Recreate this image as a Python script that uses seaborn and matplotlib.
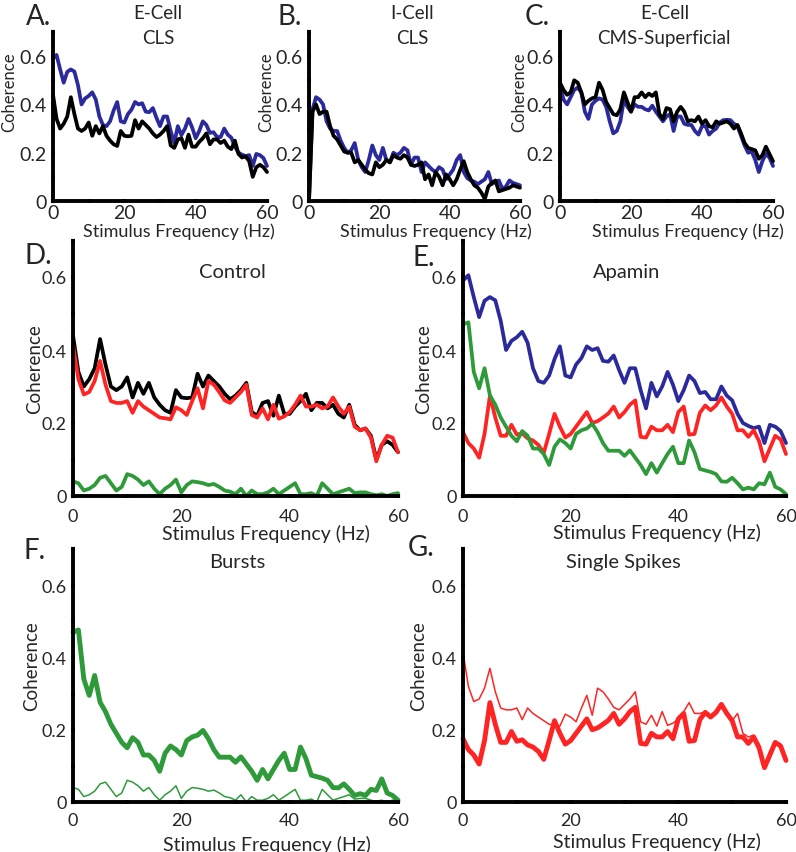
import numpy as np
import matplotlib
matplotlib.use("Agg")
import matplotlib.pyplot as plt
import seaborn as sns
from matplotlib.ticker import MultipleLocator, FixedLocator, FixedFormatter

sns.set_style("white")
plt.rcParams["font.family"] = ["Lato", "DejaVu Sans"]

freq = list(range(0, 61))

# E-cell CLS, all spikes (blue in A and E)
ecell_all = [0.59, 0.605, 0.545, 0.49, 0.535, 0.545, 0.536, 0.48, 0.40, 0.425,
             0.435, 0.45, 0.42, 0.35, 0.315, 0.31, 0.33, 0.375, 0.41, 0.33,
             0.325, 0.36, 0.378, 0.41, 0.40, 0.405, 0.37, 0.368, 0.385, 0.345,
             0.31, 0.35, 0.35, 0.29, 0.24, 0.31, 0.273, 0.30, 0.34, 0.305,
             0.26, 0.29, 0.33, 0.315, 0.282, 0.285, 0.265, 0.265, 0.30, 0.275,
             0.262, 0.225, 0.20, 0.192, 0.186, 0.19, 0.145, 0.195, 0.19, 0.178,
             0.145]
# E-cell CLS control (black in A and D)
ecell_ctrl = [0.44, 0.34, 0.30, 0.32, 0.35, 0.43, 0.36, 0.30, 0.29, 0.30,
              0.325, 0.27, 0.31, 0.28, 0.31, 0.27, 0.25, 0.235, 0.228, 0.29,
              0.27, 0.268, 0.27, 0.335, 0.30, 0.33, 0.315, 0.30, 0.28, 0.265,
              0.275, 0.29, 0.31, 0.23, 0.22, 0.255, 0.26, 0.22, 0.275, 0.225,
              0.225, 0.245, 0.26, 0.28, 0.235, 0.255, 0.255, 0.24, 0.25, 0.225,
              0.215, 0.25, 0.195, 0.18, 0.185, 0.165, 0.10, 0.14, 0.15, 0.14,
              0.12]
# I-cell CLS
icell_blue = [0.0, 0.38, 0.43, 0.42, 0.40, 0.33, 0.30, 0.29, 0.29, 0.25,
              0.22, 0.20, 0.21, 0.24, 0.17, 0.14, 0.12, 0.17, 0.23, 0.19,
              0.17, 0.22, 0.17, 0.16, 0.20, 0.19, 0.20, 0.22, 0.21, 0.15,
              0.18, 0.18, 0.12, 0.16, 0.145, 0.13, 0.12, 0.14, 0.13, 0.09,
              0.11, 0.13, 0.17, 0.19, 0.12, 0.095, 0.085, 0.08, 0.07, 0.08,
              0.09, 0.12, 0.07, 0.08, 0.085, 0.05, 0.06, 0.085, 0.075, 0.07,
              0.065]
icell_black = [0.0, 0.37, 0.40, 0.36, 0.37, 0.37, 0.31, 0.27, 0.255, 0.23,
               0.205, 0.20, 0.20, 0.16, 0.17, 0.15, 0.13, 0.115, 0.11, 0.16,
               0.14, 0.15, 0.17, 0.16, 0.19, 0.18, 0.175, 0.19, 0.18, 0.15,
               0.145, 0.15, 0.16, 0.09, 0.11, 0.065, 0.12, 0.10, 0.065, 0.11,
               0.09, 0.065, 0.09, 0.13, 0.165, 0.12, 0.09, 0.065, 0.055, 0.035,
               0.008, 0.06, 0.075, 0.085, 0.04, 0.045, 0.05, 0.055, 0.065, 0.06,
               0.055]
# E-cell CMS-superficial
cms_blue = [0.48, 0.42, 0.40, 0.43, 0.46, 0.47, 0.45, 0.37, 0.34, 0.40,
            0.415, 0.425, 0.42, 0.39, 0.33, 0.28, 0.29, 0.33, 0.42, 0.39,
            0.37, 0.40, 0.39, 0.39, 0.38, 0.375, 0.395, 0.37, 0.35, 0.33,
            0.35, 0.36, 0.29, 0.35, 0.35, 0.32, 0.315, 0.315, 0.29, 0.275,
            0.31, 0.31, 0.275, 0.29, 0.30, 0.325, 0.335, 0.336, 0.335, 0.32,
            0.31, 0.27, 0.23, 0.20, 0.205, 0.17, 0.12, 0.165, 0.195, 0.18,
            0.145]
cms_black = [0.49, 0.46, 0.44, 0.45, 0.50, 0.49, 0.45, 0.40, 0.415, 0.425,
             0.43, 0.49, 0.46, 0.41, 0.385, 0.36, 0.355, 0.38, 0.45, 0.41,
             0.37, 0.43, 0.43, 0.45, 0.43, 0.445, 0.435, 0.45, 0.36, 0.34,
             0.385, 0.38, 0.33, 0.37, 0.39, 0.37, 0.33, 0.335, 0.33, 0.35,
             0.32, 0.335, 0.31, 0.305, 0.33, 0.32, 0.325, 0.33, 0.32, 0.30,
             0.315, 0.28, 0.24, 0.22, 0.215, 0.21, 0.175, 0.19, 0.225, 0.195,
             0.165]
# Control: single spikes (red) and bursts (green)
ctrl_single = [0.415, 0.32, 0.278, 0.285, 0.315, 0.37, 0.305, 0.26, 0.255, 0.255,
               0.26, 0.228, 0.26, 0.245, 0.235, 0.225, 0.215, 0.213, 0.21, 0.243,
               0.235, 0.222, 0.26, 0.295, 0.24, 0.315, 0.305, 0.285, 0.262, 0.255,
               0.27, 0.285, 0.305, 0.222, 0.215, 0.24, 0.21, 0.25, 0.212, 0.218,
               0.23, 0.25, 0.275, 0.245, 0.245, 0.25, 0.24, 0.245, 0.27, 0.245,
               0.225, 0.245, 0.19, 0.18, 0.185, 0.16, 0.095, 0.14, 0.165, 0.16,
               0.12]
ctrl_burst = [0.04, 0.035, 0.015, 0.02, 0.03, 0.05, 0.055, 0.035, 0.015, 0.025,
              0.06, 0.055, 0.045, 0.03, 0.04, 0.02, 0.005, 0.02, 0.03, 0.045,
              0.01, 0.03, 0.04, 0.038, 0.035, 0.03, 0.033, 0.025, 0.015, 0.012,
              0.005, 0.02, 0.0, 0.015, 0.005, 0.005, 0.01, 0.02, 0.005, 0.015,
              0.025, 0.035, 0.005, 0.005, 0.008, 0.0, 0.035, 0.02, 0.005, 0.01,
              0.015, 0.02, 0.008, 0.01, 0.01, 0.005, 0.002, 0.005, 0.0, 0.005,
              0.008]
# Apamin: single spikes (red) and bursts (green)
apa_single = [0.175, 0.145, 0.13, 0.105, 0.17, 0.275, 0.215, 0.165, 0.165, 0.195,
              0.168, 0.172, 0.158, 0.152, 0.14, 0.118, 0.17, 0.225, 0.19, 0.16,
              0.17, 0.19, 0.21, 0.23, 0.20, 0.205, 0.215, 0.226, 0.245, 0.215,
              0.23, 0.25, 0.262, 0.162, 0.16, 0.19, 0.18, 0.18, 0.195, 0.175,
              0.23, 0.245, 0.168, 0.17, 0.228, 0.248, 0.235, 0.248, 0.27, 0.245,
              0.225, 0.18, 0.18, 0.162, 0.18, 0.15, 0.095, 0.13, 0.165, 0.155,
              0.115]
apa_burst = [0.47, 0.476, 0.34, 0.295, 0.35, 0.276, 0.25, 0.215, 0.19, 0.165,
             0.15, 0.178, 0.165, 0.13, 0.13, 0.115, 0.085, 0.135, 0.155, 0.145,
             0.13, 0.17, 0.18, 0.185, 0.198, 0.175, 0.145, 0.124, 0.124, 0.124,
             0.11, 0.125, 0.105, 0.085, 0.06, 0.09, 0.064, 0.09, 0.115, 0.135,
             0.09, 0.09, 0.152, 0.12, 0.074, 0.07, 0.066, 0.06, 0.04, 0.039,
             0.05, 0.035, 0.018, 0.023, 0.018, 0.035, 0.032, 0.064, 0.025, 0.018,
             0.005]

xticks_major = [0, 20, 40, 60]
xtick_labels = ["0", "20", "40", "60"]
yticks_major = [0, 0.2, 0.4, 0.6]
ytick_labels = ["0", "0.2", "0.4", "0.6"]

BLUE = "#2a2a9c"
BLACK = "#000000"
RED = "#ff2424"
GREEN = "#2e9a3a"

W, H = 796, 853
fig = plt.figure(figsize=(W / 100, H / 100), dpi=100)


def px_axes(x0, x1, y_top, y_bot):
    return fig.add_axes([x0 / W, 1 - y_bot / H, (x1 - x0) / W, (y_bot - y_top) / H])


def style(ax, tick_fs, xlab_fs, ylab_fs, ylab_pos, xlab_pos, xpad):
    ax.set_xlim(0, 60)
    ax.set_ylim(0, 0.7)
    for s in ["top", "right"]:
        ax.spines[s].set_visible(False)
    for s in ["left", "bottom"]:
        ax.spines[s].set_linewidth(2.8)
        ax.spines[s].set_color("black")
    ax.xaxis.set_major_locator(FixedLocator(xticks_major))
    ax.xaxis.set_major_formatter(FixedFormatter(xtick_labels))
    ax.yaxis.set_major_locator(FixedLocator(yticks_major))
    ax.yaxis.set_major_formatter(FixedFormatter(ytick_labels))
    ax.xaxis.set_minor_locator(MultipleLocator(10))
    ax.yaxis.set_minor_locator(MultipleLocator(0.1))
    ax.tick_params(which="both", direction="inout", length=3, width=3,
                   color="black", bottom=True, left=True)
    ax.tick_params(which="major", labelsize=tick_fs)
    ax.tick_params(axis="y", which="major", pad=3)
    ax.tick_params(axis="x", which="major", pad=xpad)
    ax.set_xlabel("Stimulus Frequency (Hz)", fontsize=xlab_fs)
    ax.set_ylabel("Coherence", fontsize=ylab_fs)
    ax.xaxis.set_label_coords(*xlab_pos)
    ax.yaxis.set_label_coords(*ylab_pos)
    ax.grid(False)
    ax.set_facecolor("none")


def line(ax, y, color, lw):
    sns.lineplot(x=freq, y=y, ax=ax, color=color, linewidth=lw, clip_on=False)


LW = 2.7

# Top row
axA = px_axes(53, 267, 33, 202)
line(axA, ecell_all, BLUE, LW)
line(axA, ecell_ctrl, BLACK, LW)
axB = px_axes(309, 520, 33, 202)
line(axB, icell_blue, BLUE, LW)
line(axB, icell_black, BLACK, LW)
axC = px_axes(560, 773, 33, 202)
line(axC, cms_blue, BLUE, LW)
line(axC, cms_black, BLACK, LW)

style(axA, 14, 13, 12, (-0.168, 0.65), (0.59, -0.125), 1)
style(axB, 14, 13, 12, (-0.165, 0.65), (0.60, -0.125), 1)
style(axC, 14, 13, 12, (-0.155, 0.65), (0.60, -0.125), 1)

for ax, l1, l2 in [(axA, "E-Cell", "CLS"), (axB, "I-Cell", "CLS"),
                   (axC, "E-Cell", "CMS-Superficial")]:
    ax.text(0.49, 1.115, l1, transform=ax.transAxes, ha="center", va="center",
            fontsize=13.5)
    ax.text(0.49, 0.97, l2, transform=ax.transAxes, ha="center", va="center",
            fontsize=13.5)

# Middle row
axD = px_axes(73, 398, 241.5, 497)
line(axD, ecell_ctrl, BLACK, LW)
line(axD, ctrl_single, RED, LW)
line(axD, ctrl_burst, GREEN, LW)
axE = px_axes(463, 786, 241.5, 497)
line(axE, ecell_all, BLUE, LW)
line(axE, apa_single, RED, LW)
line(axE, apa_burst, GREEN, LW)
style(axD, 13, 14, 13.5, (-0.092, 0.5), (0.595, -0.11), 7)
style(axE, 13, 14, 13.5, (-0.096, 0.5), (0.60, -0.105), 7)
axD.text(0.49, 0.88, "Control", transform=axD.transAxes, ha="center",
         va="center", fontsize=14.5)
axE.text(0.508, 0.88, "Apamin", transform=axE.transAxes, ha="center",
         va="center", fontsize=14.5)

# Bottom row
axF = px_axes(73, 398, 550, 803)
line(axF, apa_burst, GREEN, 3.5)
line(axF, ctrl_burst, GREEN, 1.1)
axG = px_axes(463, 786, 550, 803)
line(axG, apa_single, RED, 3.5)
line(axG, ctrl_single, RED, 1.1)
style(axF, 13, 14, 13.5, (-0.10, 0.54), (0.597, -0.13), 6)
style(axG, 13, 14, 13.5, (-0.111, 0.54), (0.60, -0.12), 6)
axF.text(0.505, 0.949, "Bursts", transform=axF.transAxes, ha="center",
         va="center", fontsize=14.5)
axG.text(0.495, 0.949, "Single Spikes", transform=axG.transAxes, ha="center",
         va="center", fontsize=14.5)

# Panel letters
for lab, x, y in [("A.", 39, 17), ("B.", 290, 17), ("C.", 537, 17),
                  ("D.", 38, 256), ("E.", 424, 258), ("F.", 35, 551),
                  ("G.", 421, 548)]:
    fig.text(x / W, 1 - y / H, lab, ha="center", va="center", fontsize=20)

fig.savefig("out.png", dpi=100)
